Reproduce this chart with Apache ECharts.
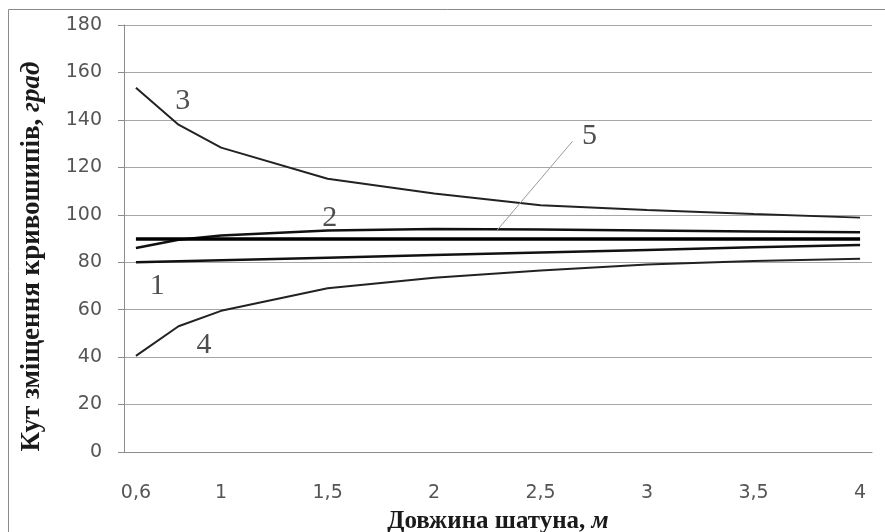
<!DOCTYPE html>
<html>
<head>
<meta charset="utf-8">
<script src="https://cdn.jsdelivr.net/npm/echarts@6/dist/echarts.min.js"></script>
<style>
  html, body { margin: 0; padding: 0; background: #fff; }
  #chart { width: 885px; height: 532px; }
</style>
</head>
<body>
<div id="chart"></div>
<script>
// Connecting-rod length, m
const rodLength = [0.6, 0.8, 1, 1.5, 2, 2.5, 3, 3.5, 4];

// Crank offset angle, degrees, one array per curve
const curve1 = [80, 80.4, 80.8, 81.9, 83, 84.1, 85.2, 86.3, 87.3];
const curve2 = [86, 89.5, 91.3, 93.4, 94, 93.8, 93.4, 93, 92.6];
const curve3 = [153.5, 138, 128.3, 115.2, 109, 104, 102, 100.3, 98.8];
const curve4 = [40.5, 53, 59.5, 69, 73.5, 76.5, 79, 80.5, 81.5];
const curve5 = [89.8, 89.8, 89.8, 89.8, 89.8, 89.8, 89.8, 89.8, 89.8];

// Axis tick labels
const xTickValues = [0.6, 1, 1.5, 2, 2.5, 3, 3.5, 4];

// Curve numbers and where they sit (x in m, y in degrees)
const curveNames = ['1', '2', '3', '4', '5'];
const nameAnchorX = [0.70, 1.51, 0.82, 0.92, 2.73];
const nameAnchorY = [70, 98.5, 148, 45, 133];

// Leader line from the "5" label down to its curve
const leaderFrom = [2.65, 131];
const leaderTo = [2.295, 93.4];

const pairs = ys => rodLength.map((x, i) => [x, ys[i]]);

const lineSeries = (data, width, color) => ({
  type: 'line',
  data: pairs(data),
  showSymbol: false,
  symbol: 'none',
  smooth: false,
  silent: true,
  lineStyle: { color: color, width: width },
  z: 3
});

const chart = echarts.init(document.getElementById('chart'), null, { renderer: 'canvas' });

const serif = '"Liberation Serif", "DejaVu Serif", serif';
const sans = '"DejaVu Sans", "Liberation Sans", sans-serif';

const titleRich = size => ({
  b: { fontFamily: serif, fontWeight: 'bold', fontSize: size, color: '#1a1a1a' },
  i: { fontFamily: serif, fontWeight: 'bold', fontStyle: 'italic', fontSize: size, color: '#1a1a1a' }
});

chart.setOption({
  animation: false,
  backgroundColor: '#ffffff',
  grid: { left: 124, right: 13, top: 25, bottom: 80, containLabel: false, outerBoundsMode: 'none' },
  graphic: [{
    type: 'rect',
    shape: { x: 8.5, y: 9.5, width: 1000, height: 1000 },
    style: { fill: 'none', stroke: '#8a8a8a', lineWidth: 1 },
    silent: true
  }],
  xAxis: {
    type: 'value',
    min: 0.544,
    max: 4.056,
    axisLine: { show: true, lineStyle: { color: '#8c8c8c', width: 1 } },
    axisTick: { show: false },
    splitLine: { show: false },
    axisLabel: {
      customValues: xTickValues,
      margin: 32,
      color: '#555',
      fontFamily: sans,
      fontSize: 19,
      formatter: v => String(v).replace('.', ',')
    },
    name: '{b|Довжина шатуна, }{i|м}',
    nameLocation: 'middle',
    nameGap: 57,
    nameTextStyle: { rich: titleRich(25) }
  },
  yAxis: {
    type: 'value',
    min: 0,
    max: 180,
    interval: 20,
    axisLine: { show: true, lineStyle: { color: '#8c8c8c', width: 1 } },
    axisTick: { show: true, inside: false, length: 6, lineStyle: { color: '#8c8c8c' } },
    splitLine: { show: true, lineStyle: { color: '#a6a6a6', width: 1 } },
    axisLabel: {
      margin: 22,
      color: '#555',
      fontFamily: sans,
      fontSize: 19
    },
    name: '{b|Кут зміщення кривошипів, }{i|град}',
    nameLocation: 'middle',
    nameRotate: 90,
    nameGap: 78,
    nameTextStyle: { rich: titleRich(27), padding: [0, 36, 0, 0] }
  },
  series: [
    lineSeries(curve1, 2.5, '#111'),
    Object.assign(lineSeries(curve2, 2.5, '#111'), {
      markLine: {
        silent: true,
        symbol: ['none', 'none'],
        label: { show: false },
        lineStyle: { color: '#9a9a9a', width: 1, type: 'solid' },
        data: [[{ coord: leaderFrom }, { coord: leaderTo }]]
      }
    }),
    lineSeries(curve3, 2, '#222'),
    lineSeries(curve4, 2, '#222'),
    lineSeries(curve5, 3.5, '#000'),
    {
      type: 'scatter',
      silent: true,
      symbolSize: 0,
      data: curveNames.map((n, i) => ({ name: n, value: [nameAnchorX[i], nameAnchorY[i]] })),
      label: {
        show: true,
        position: 'inside',
        formatter: p => p.name,
        fontFamily: serif,
        fontSize: 30,
        color: '#222'
      },
      z: 5
    }
  ]
});
</script>
</body>
</html>
